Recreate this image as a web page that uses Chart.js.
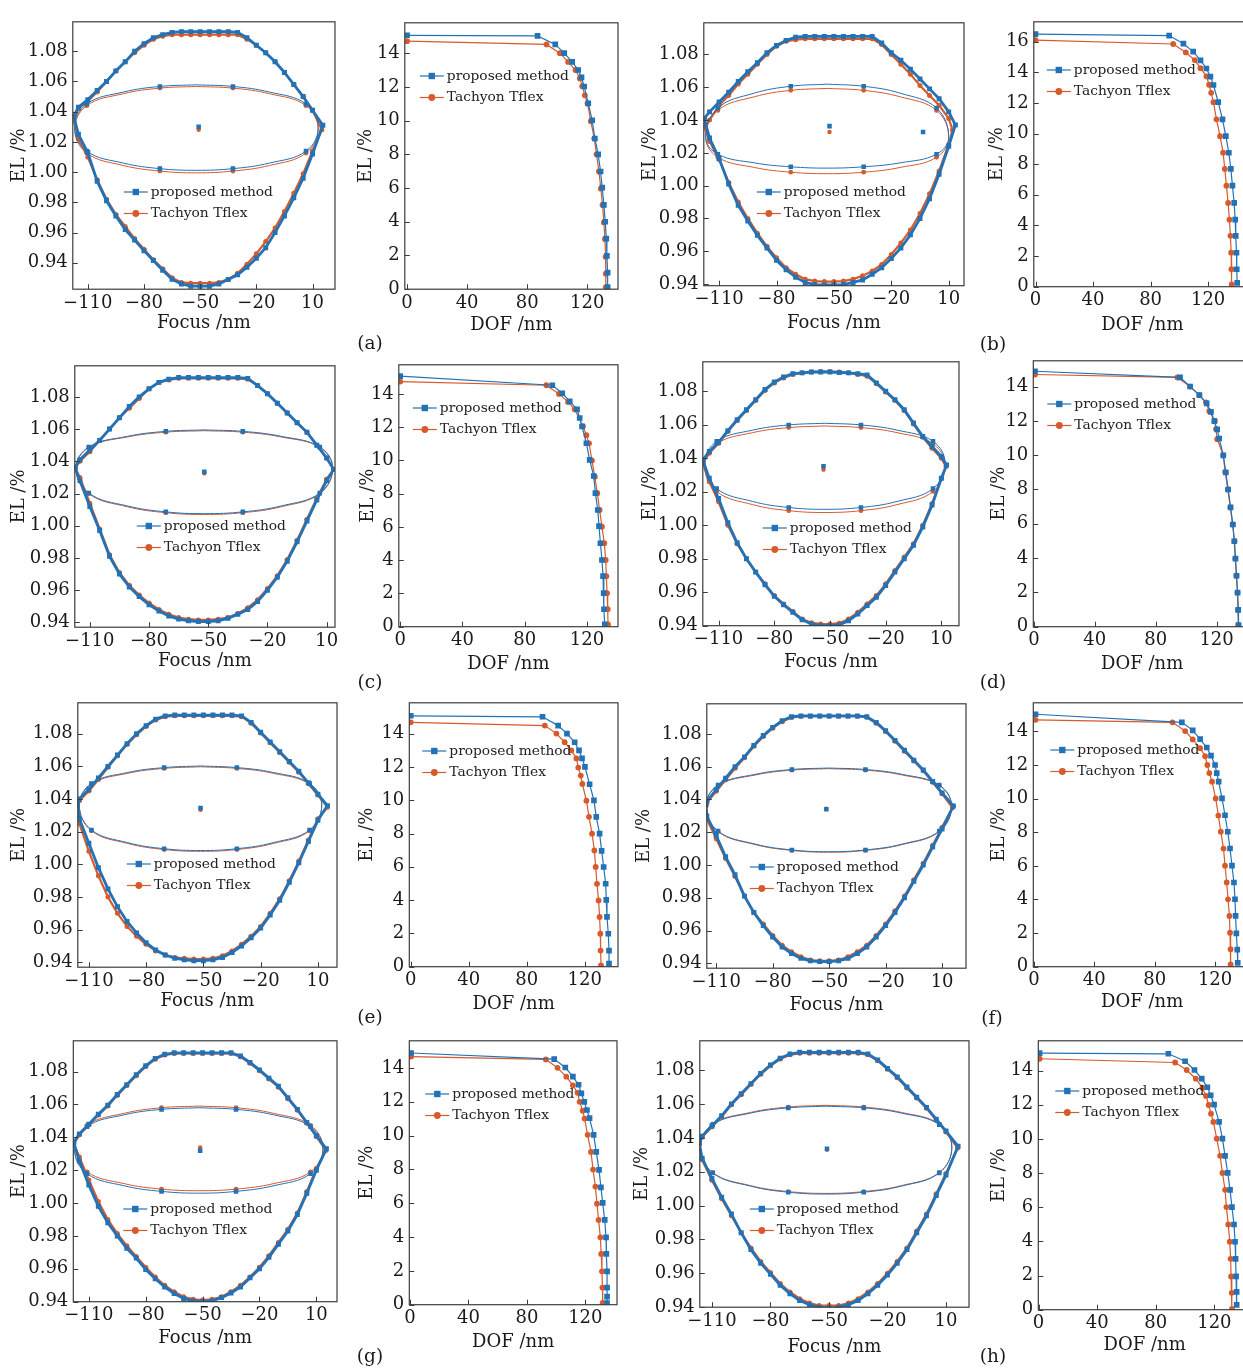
<!DOCTYPE html>
<html><head><meta charset="utf-8">
<script src="https://cdn.jsdelivr.net/npm/chart.js@4.4.0/dist/chart.umd.min.js"></script>
<style>
html,body{margin:0;padding:0;width:1243px;height:1368px;overflow:hidden;background:#fff;position:relative;}
canvas{position:absolute;}
.lbl{position:absolute;font-family:'DejaVu Serif';font-size:18.5px;color:#1a1a1a;transform:translate(-50%,-50%);white-space:nowrap;}
</style></head><body>
<script>
// ---------- tick labels / categories ----------
const NAMES = ['proposed method', 'Tachyon Tflex'];
const PW_X_TICKS = [-110, -80, -50, -20, 10];
const PW_Y_TICKS = [0.94, 0.96, 0.98, 1.00, 1.02, 1.04, 1.06, 1.08];
const DOF_X_TICKS = [0, 40, 80, 120];
const DOF_Y_TICKS = [0, 2, 4, 6, 8, 10, 12, 14];
const DOF_Y_TICKS_B = [0, 2, 4, 6, 8, 10, 12, 14, 16];
const BELL_FOCUS = [-115,-110,-105,-100,-95,-90,-85,-80,-75,-70,-65,-60,-55,-50,-45,-40,-35,-30,-25,-20,-15,-10,-5,0,5,10];

// ---------- (a) ----------
const bellBlueUp_a = [1.043,1.048,1.054,1.060,1.067,1.073,1.080,1.085,1.089,1.091,1.0925,1.093,1.093,1.093,1.093,1.093,1.093,1.0925,1.089,1.084,1.079,1.073,1.066,1.058,1.050,1.041];
const bellBlueLo_a = [1.025,1.013,0.994,0.981,0.971,0.962,0.955,0.948,0.9415,0.935,0.929,0.926,0.9245,0.9245,0.9245,0.926,0.929,0.932,0.937,0.943,0.950,0.960,0.971,0.983,0.996,1.012];
const bellBlueTips_a = [[-117.5,1.037],[15.5,1.031]];
const bellRedUp_a = [1.042,1.047,1.053,1.060,1.067,1.073,1.079,1.084,1.088,1.090,1.091,1.091,1.091,1.091,1.091,1.091,1.091,1.091,1.088,1.084,1.079,1.073,1.066,1.058,1.050,1.041];
const bellRedLo_a = [1.022,1.010,0.995,0.982,0.972,0.964,0.956,0.949,0.942,0.936,0.930,0.927,0.9265,0.9265,0.9265,0.927,0.929,0.933,0.939,0.946,0.954,0.963,0.974,0.986,0.999,1.014];
const bellRedTips_a = [[-117.5,1.034],[15,1.028]];
const ellX_a = [-52,-32.5,-13,6.5,13,6.5,-13,-32.5,-52,-71.5,-91,-110.5,-117,-110.5,-91,-71.5,-52];
const ellBlueY_a = [1.0578,1.0567,1.053,1.0451,1.0295,1.0139,1.006,1.0023,1.0012,1.0023,1.006,1.0139,1.0295,1.0451,1.053,1.0567,1.0578];
const ellRedY_a = [1.0567,1.0556,1.0519,1.044,1.0285,1.0126,1.0044,1.0007,0.9995,1.0007,1.0044,1.0126,1.0285,1.044,1.0519,1.0556,1.0567];
const ctrBlue_a = [[-50.8,1.030]];
const ctrRed_a = [[-50.8,1.028]];
const dofBlue_a = [[0,15.06],[86.9,15.02],[98.7,14.52],[104.7,14],[110,13.48],[114,13],[116.2,12.56],[118,12.02],[120.7,11.02],[123.3,10.02],[125.1,8.94],[127.3,8],[128.9,6.98],[130,6.02],[131.1,5],[132,4],[132.7,3],[133.1,1.98],[133.6,0.98],[133.6,0.12]];
const dofRed_a = [[0,14.71],[92.9,14.52],[101.8,14],[107.3,13.48],[112.2,13],[115.1,12.5],[116.7,12.04],[118.4,11.5],[120.2,11.02],[122.4,9.96],[124.7,8.94],[126.2,8],[127.8,6.98],[129.1,5.96],[130.2,5],[131.1,3.96],[131.8,2.98],[132.2,1.92],[132.4,0.92],[132.4,0.12]];

// ---------- (b) ----------
const bellBlueUp_b = [1.045,1.051,1.057,1.0635,1.0695,1.075,1.081,1.0855,1.0885,1.0905,1.091,1.091,1.091,1.091,1.091,1.091,1.091,1.091,1.087,1.081,1.0765,1.071,1.065,1.059,1.053,1.045];
const bellBlueLo_b = [1.029,1.0165,1.001,0.988,0.9785,0.9697,0.962,0.9545,0.9487,0.9442,0.941,0.9397,0.9395,0.9395,0.9397,0.941,0.9425,0.946,0.950,0.9555,0.962,0.970,0.980,0.992,1.007,1.024];
const bellBlueTips_b = [[-117.8,1.041],[13.5,1.037]];
const bellRedUp_b = [1.040,1.049,1.055,1.062,1.068,1.074,1.080,1.085,1.088,1.089,1.0895,1.0895,1.0895,1.0895,1.0895,1.0895,1.0895,1.0895,1.086,1.080,1.074,1.068,1.061,1.055,1.049,1.041];
const bellRedLo_b = [1.027,1.016,1.002,0.990,0.980,0.971,0.963,0.956,0.950,0.946,0.943,0.9418,0.9415,0.9415,0.9418,0.943,0.945,0.948,0.952,0.958,0.965,0.973,0.983,0.995,1.009,1.025];
const bellRedTips_b = [[-117.8,1.036],[12,1.034]];
const ellX_b = [-53.5,-34.45,-15.4,3.65,10,3.65,-15.4,-34.45,-53.5,-72.55,-91.6,-110.65,-117,-110.65,-91.6,-72.55,-53.5];
const ellBlueY_b = [1.0619,1.0606,1.0564,1.0473,1.0295,1.0192,1.0139,1.0115,1.0107,1.0115,1.0139,1.0192,1.0295,1.0473,1.0564,1.0606,1.0619];
const ellRedY_b = [1.0593,1.0581,1.0542,1.0459,1.0295,1.0173,1.0111,1.0082,1.0073,1.0082,1.0111,1.0173,1.0295,1.0459,1.0542,1.0581,1.0593];
const ctrBlue_b = [[-52.3,1.0363],[-3.4,1.0327]];
const ctrRed_b = [[-52.3,1.0327]];
const dofBlue_b = [[0,16.49],[92.9,16.4],[102.8,15.87],[109.6,15.35],[114.7,14.78],[118.8,14.25],[121.6,13.72],[123.7,13.17],[127,12.05],[130,10.93],[132.3,9.83],[134.4,8.75],[135.8,7.69],[136.9,6.6],[138.1,5.47],[138.8,4.38],[139.2,3.32],[139.7,2.22],[139.9,1.14],[140.2,0.25]];
const dofRed_b = [[0,16.1],[95.7,15.85],[104.5,15.3],[110.7,14.8],[114.7,14.27],[118.8,13.74],[120.7,13.19],[122.1,12.66],[123.7,12.05],[125.8,10.93],[128.3,9.83],[130.4,8.75],[131.6,7.69],[132.7,6.6],[133.9,5.47],[134.8,4.38],[135.5,3.32],[136,2.22],[136.2,1.14],[136.4,0.15]];

// ---------- (c) ----------
const bellBlueUp_c = [1.041,1.047,1.053,1.060,1.067,1.074,1.080,1.085,1.089,1.091,1.092,1.092,1.092,1.092,1.092,1.092,1.092,1.0915,1.087,1.082,1.076,1.070,1.064,1.058,1.050,1.042];
const bellBlueLo_c = [1.028,1.012,0.997,0.981,0.970,0.962,0.956,0.951,0.947,0.944,0.942,0.941,0.9405,0.9405,0.941,0.9425,0.945,0.948,0.953,0.960,0.968,0.978,0.990,1.003,1.016,1.028];
const bellBlueTips_c = [[-117.5,1.036],[13.5,1.035]];
const bellRedUp_c = [1.040,1.046,1.053,1.060,1.067,1.073,1.079,1.085,1.089,1.0905,1.0915,1.0915,1.0915,1.0915,1.0915,1.0915,1.0915,1.091,1.087,1.082,1.076,1.070,1.064,1.058,1.050,1.042];
const bellRedLo_c = [1.030,1.014,0.998,0.982,0.971,0.963,0.957,0.952,0.948,0.945,0.943,0.942,0.9415,0.9415,0.942,0.943,0.9455,0.949,0.954,0.961,0.969,0.979,0.991,1.004,1.017,1.029];
const bellRedTips_c = [[-117.5,1.036],[13.5,1.035]];
const ellX_c = [-52,-32.5,-13,6.5,13,6.5,-13,-32.5,-52,-71.5,-91,-110.5,-117,-110.5,-91,-71.5,-52];
const ellBlueY_c = [1.0595,1.0586,1.0555,1.0489,1.036,1.0203,1.0123,1.0086,1.0075,1.0086,1.0123,1.0203,1.036,1.0489,1.0555,1.0586,1.0595];
const ellRedY_c = [1.059,1.0581,1.0551,1.0486,1.0355,1.0199,1.0118,1.0081,1.007,1.0081,1.0118,1.0199,1.0355,1.0486,1.0551,1.0581,1.059];
const ctrBlue_c = [[-52,1.0335]];
const ctrRed_c = [[-52,1.0325]];
const dofBlue_c = [[0,15.07],[97.7,14.52],[104.1,14.04],[108.9,13.55],[113.6,13.07],[115.3,12.55],[116.8,12.04],[119.6,11.03],[121.7,10.03],[124.3,9.06],[125.4,8.03],[126.9,7.02],[127.7,6.05],[128.6,5.02],[129.6,4.01],[130.3,3.04],[130.7,2.02],[130.9,1.05],[131.4,0.14]];
const dofRed_c = [[0,14.74],[93.9,14.52],[102,14],[107.8,13.52],[112.1,13.07],[117.4,12.06],[119.6,11.52],[121.3,11.03],[123.2,9.99],[125,9.02],[126.6,8.03],[128.1,7.02],[129.6,6.01],[131.1,5.02],[132,4.01],[132.4,3.04],[132.9,2.02],[133.3,1.05],[133.5,0.14]];

// ---------- (d) ----------
const bellBlueUp_d = [1.044,1.0495,1.0565,1.063,1.069,1.075,1.081,1.0855,1.0885,1.0905,1.091,1.0915,1.0915,1.0915,1.0912,1.091,1.0905,1.0898,1.085,1.080,1.075,1.069,1.061,1.053,1.047,1.041];
const bellBlueLo_d = [1.028,1.016,1.0015,0.9895,0.980,0.972,0.9645,0.9575,0.9525,0.948,0.9435,0.941,0.940,0.940,0.9405,0.943,0.947,0.952,0.957,0.964,0.972,0.980,0.988,0.999,1.012,1.028];
const bellBlueTips_d = [[-118.5,1.039],[12.8,1.036]];
const bellRedUp_d = [1.043,1.049,1.056,1.0625,1.0685,1.0745,1.0805,1.085,1.088,1.090,1.091,1.0915,1.0918,1.0918,1.0915,1.091,1.090,1.089,1.0845,1.0795,1.0745,1.0685,1.0605,1.0525,1.046,1.040];
const bellRedLo_d = [1.026,1.014,1.000,0.989,0.980,0.972,0.965,0.958,0.953,0.9485,0.944,0.9418,0.941,0.941,0.9415,0.944,0.948,0.953,0.958,0.965,0.973,0.981,0.989,1.000,1.013,1.028];
const bellRedTips_d = [[-118.5,1.037],[12.5,1.035]];
const ellX_d = [-52.75,-33.3,-13.9,5.5,12,5.5,-13.9,-33.3,-52.75,-72.2,-91.6,-111,-117.5,-111,-91.6,-72.2,-52.75];
const ellBlueY_d = [1.0609,1.0599,1.0568,1.0501,1.037,1.0219,1.0142,1.0106,1.0095,1.0106,1.0142,1.0219,1.037,1.0501,1.0568,1.0599,1.0609];
const ellRedY_d = [1.0593,1.0583,1.0553,1.0486,1.0355,1.0202,1.0123,1.0087,1.0076,1.0087,1.0123,1.0202,1.0355,1.0486,1.0553,1.0583,1.0593];
const ctrBlue_d = [[-53.5,1.0352]];
const ctrRed_d = [[-53.5,1.0332]];
const dofBlue_d = [[0.7,14.89],[96,14.53],[102.6,14],[108.7,13.5],[113.5,13.02],[116.3,12.52],[118.5,11.98],[120.4,11.5],[121.7,10.97],[124.4,9.99],[126.1,8.99],[127.6,8],[129.2,6.96],[130.7,5.96],[131.6,4.98],[132.4,3.97],[133.1,2.97],[133.8,1.99],[134.2,0.98],[134.4,0.09]];
const dofRed_d = [[0.7,14.7],[94.3,14.53],[102.6,14],[108.7,13.5],[113,13.07],[115.2,12.56],[118.9,12],[119.6,11.52],[120.4,10.93],[124.4,9.99],[125.6,9.02],[127.4,8],[129,6.96],[130.5,5.96],[131.8,4.98],[132.3,3.97],[133,2.97],[133.7,1.99],[134.1,0.98],[134.3,0.09]];

// ---------- (e) ----------
const bellBlueUp_e = [1.040,1.046,1.053,1.060,1.067,1.074,1.080,1.085,1.089,1.091,1.0915,1.0915,1.0915,1.0915,1.0915,1.0915,1.0915,1.091,1.087,1.081,1.075,1.069,1.063,1.057,1.050,1.043];
const bellBlueLo_e = [1.028,1.013,0.998,0.985,0.974,0.965,0.958,0.952,0.9475,0.9445,0.9425,0.9415,0.941,0.941,0.9415,0.943,0.946,0.950,0.955,0.961,0.969,0.978,0.989,1.001,1.014,1.027];
const bellBlueTips_e = [[-116,1.037],[15,1.036]];
const bellRedUp_e = [1.039,1.045,1.052,1.0595,1.0665,1.0735,1.0795,1.0845,1.0885,1.0905,1.091,1.091,1.091,1.091,1.091,1.091,1.091,1.0905,1.0865,1.0805,1.0745,1.0685,1.0625,1.0565,1.0495,1.0425];
const bellRedLo_e = [1.025,1.008,0.993,0.980,0.970,0.962,0.956,0.951,0.947,0.9445,0.943,0.9425,0.942,0.942,0.9425,0.944,0.947,0.951,0.956,0.962,0.970,0.979,0.990,1.002,1.015,1.028];
const bellRedTips_e = [[-116.5,1.036],[15,1.035]];
const ellX_e = [-51.5,-32.45,-13.4,5.65,12,5.65,-13.4,-32.45,-51.5,-70.55,-89.6,-108.65,-115,-108.65,-89.6,-70.55,-51.5];
const ellBlueY_e = [1.0603,1.0593,1.0563,1.0496,1.0365,1.0211,1.0133,1.0096,1.0085,1.0096,1.0133,1.0211,1.0365,1.0496,1.0563,1.0593,1.0603];
const ellRedY_e = [1.0598,1.0588,1.0558,1.0491,1.036,1.0206,1.0128,1.0091,1.008,1.0091,1.0128,1.0206,1.036,1.0491,1.0558,1.0588,1.0598];
const ctrBlue_e = [[-51.5,1.0345]];
const ctrRed_e = [[-51.5,1.0335]];
const dofBlue_e = [[0,15.07],[90.9,15.01],[101.7,14.48],[107.8,14],[113.1,13.48],[116.1,12.99],[118.2,12.51],[120.2,12],[123.4,10.96],[126.4,9.99],[128,9],[130.3,7.99],[131.7,6.96],[133.1,5.99],[134.5,4.98],[134.9,4.01],[135.4,2.99],[136.3,1.98],[136.8,0.97],[136.8,0.19]];
const dofRed_e = [[0,14.68],[92.5,14.48],[100.5,14],[106.2,13.48],[110.8,12.99],[114.3,12.51],[115.6,11.96],[117.3,11.48],[118.4,10.98],[121.2,9.97],[123,9],[125.1,7.99],[126.7,6.98],[127.6,5.99],[128.5,4.98],[129.6,3.98],[130.3,2.99],[130.8,1.98],[131,0.97],[131.3,0.08]];

// ---------- (f) ----------
const bellBlueUp_f = [1.039,1.046,1.053,1.060,1.066,1.073,1.079,1.084,1.088,1.0905,1.091,1.091,1.091,1.091,1.091,1.091,1.091,1.0905,1.087,1.082,1.076,1.070,1.064,1.058,1.051,1.044];
const bellBlueLo_f = [1.030,1.018,1.005,0.994,0.981,0.971,0.963,0.956,0.950,0.946,0.943,0.9415,0.941,0.941,0.9415,0.943,0.946,0.950,0.956,0.963,0.971,0.980,0.990,1.000,1.011,1.022];
const bellBlueTips_f = [[-115.5,1.037],[16,1.036]];
const bellRedUp_f = [1.038,1.045,1.052,1.059,1.0655,1.0725,1.0785,1.0835,1.0875,1.090,1.0908,1.0908,1.0908,1.0908,1.0908,1.0908,1.0908,1.0902,1.0865,1.0815,1.0755,1.0695,1.0635,1.0575,1.0505,1.0435];
const bellRedLo_f = [1.028,1.016,1.004,0.993,0.981,0.971,0.964,0.957,0.951,0.947,0.944,0.942,0.9415,0.9415,0.942,0.944,0.947,0.951,0.957,0.964,0.972,0.981,0.991,1.001,1.012,1.023];
const bellRedTips_f = [[-115.5,1.036],[15.5,1.035]];
const ellX_f = [-50.25,-30.7,-11.1,8.5,15,8.5,-11.1,-30.7,-50.25,-69.8,-89.4,-109,-115.5,-109,-89.4,-69.8,-50.25];
const ellBlueY_f = [1.0592,1.0583,1.0553,1.0488,1.036,1.0207,1.0128,1.0092,1.0081,1.0092,1.0128,1.0207,1.036,1.0488,1.0553,1.0583,1.0592];
const ellRedY_f = [1.0588,1.0579,1.0549,1.0485,1.0358,1.0204,1.0125,1.0089,1.0078,1.0089,1.0125,1.0204,1.0358,1.0485,1.0549,1.0579,1.0588];
const ctrBlue_f = [[-51.5,1.034]];
const ctrRed_f = [[-51.5,1.0343]];
const dofBlue_f = [[1.1,15.02],[98,14.54],[105.2,14.06],[110.1,13.54],[114.5,13.04],[117.3,12.56],[120,12],[121.1,11.52],[122.4,11.01],[124.6,10.01],[126.6,9.01],[128.4,8.03],[129.9,7.03],[131.2,6.01],[132.5,5.01],[133.2,4.01],[133.6,3.02],[134.1,1.98],[134.7,1.02],[135,0.23]];
const dofRed_f = [[1.1,14.69],[91.8,14.54],[100.2,14.02],[105.2,13.52],[110.1,13],[113.4,12.52],[114.9,12],[116.2,11.52],[118,11.01],[120.4,10.01],[122.2,8.99],[123.8,8.03],[125.6,7.03],[126.6,6.01],[127.7,5.01],[128.6,4.01],[129.5,3.02],[129.9,2.02],[130.3,1.04],[130.3,0.13]];

// ---------- (g) ----------
const bellBlueUp_g = [1.042,1.048,1.054,1.0595,1.066,1.072,1.078,1.0835,1.088,1.0905,1.0914,1.0914,1.0914,1.0914,1.0914,1.0914,1.0914,1.0895,1.0855,1.081,1.076,1.071,1.064,1.057,1.049,1.041];
const bellBlueLo_g = [1.0255,1.011,0.998,0.988,0.980,0.9725,0.9665,0.9595,0.954,0.949,0.945,0.942,0.9405,0.9402,0.9405,0.9425,0.9453,0.949,0.9545,0.960,0.967,0.975,0.983,0.993,1.006,1.020];
const bellBlueTips_g = [[-118,1.037],[15.3,1.033]];
const bellRedUp_g = [1.0415,1.0475,1.0535,1.059,1.0655,1.0715,1.0775,1.083,1.0875,1.090,1.091,1.091,1.091,1.091,1.091,1.091,1.091,1.089,1.085,1.0805,1.0755,1.0705,1.0635,1.0565,1.0485,1.0405];
const bellRedLo_g = [1.028,1.014,1.001,0.990,0.9815,0.974,0.9675,0.961,0.955,0.950,0.946,0.943,0.9415,0.941,0.9415,0.943,0.946,0.950,0.955,0.961,0.968,0.976,0.984,0.994,1.007,1.021];
const bellRedTips_g = [[-118,1.036],[15,1.032]];
const ellX_g = [-52,-32.35,-12.7,6.95,13.5,6.95,-12.7,-32.35,-52,-71.65,-91.3,-110.95,-117.5,-110.95,-91.3,-71.65,-52];
const ellBlueY_g = [1.058,1.057,1.0537,1.0465,1.0325,1.0179,1.0105,1.0071,1.006,1.0071,1.0105,1.0179,1.0325,1.0465,1.0537,1.057,1.058];
const ellRedY_g = [1.059,1.058,1.0546,1.0473,1.033,1.019,1.0118,1.0085,1.0075,1.0085,1.0118,1.019,1.033,1.0473,1.0546,1.058,1.059];
const ctrBlue_g = [[-51.3,1.0319]];
const ctrRed_g = [[-51.3,1.0338]];
const dofBlue_g = [[0.7,14.88],[98.7,14.52],[106.3,14.02],[111.5,13.48],[115.4,13],[117.3,12.49],[119.3,11.99],[121.1,11.51],[122.9,11.03],[125.7,10.04],[127.5,9.03],[129.4,7.97],[130.7,6.94],[131.9,6.02],[133.3,5.01],[134.2,3.98],[134.4,3],[134.9,1.97],[134.9,1.01],[134.9,0.48],[134.9,0.1]];
const dofRed_g = [[0.7,14.67],[93,14.5],[101,14],[107,13.48],[111.5,12.97],[114.7,12.53],[116.1,11.99],[118.2,11.47],[119.5,11],[121.6,10.04],[123.9,9.03],[125.3,7.99],[126.9,6.98],[128,5.97],[129.1,5.01],[130.3,3.98],[130.9,3],[131.4,1.97],[131.7,1.01],[131.9,0.1]];

// ---------- (h) ----------
const bellBlueUp_h = [1.041,1.047,1.053,1.060,1.066,1.072,1.078,1.083,1.087,1.0895,1.0905,1.0905,1.0905,1.0905,1.0905,1.0905,1.0905,1.0895,1.086,1.081,1.076,1.070,1.064,1.058,1.051,1.044];
const bellBlueLo_h = [1.028,1.016,1.005,0.995,0.984,0.974,0.966,0.9595,0.953,0.948,0.944,0.9415,0.940,0.9395,0.940,0.9415,0.944,0.948,0.953,0.959,0.966,0.974,0.984,0.994,1.006,1.018];
const bellBlueTips_h = [[-116.5,1.037],[16.2,1.035]];
const bellRedUp_h = [1.0405,1.0465,1.0525,1.0595,1.0655,1.0715,1.0775,1.0825,1.0865,1.089,1.090,1.090,1.090,1.090,1.090,1.090,1.090,1.089,1.0855,1.0805,1.0755,1.0695,1.0635,1.0575,1.0505,1.0435];
const bellRedLo_h = [1.027,1.015,1.004,0.994,0.984,0.975,0.967,0.9605,0.954,0.949,0.945,0.9425,0.941,0.941,0.941,0.9425,0.945,0.949,0.954,0.960,0.967,0.975,0.985,0.995,1.007,1.019];
const bellRedTips_h = [[-116.5,1.036],[16,1.034]];
const ellX_h = [-51.5,-32.15,-12.8,6.55,13,6.55,-12.8,-32.15,-51.5,-70.85,-90.2,-109.55,-116,-109.55,-90.2,-70.85,-51.5];
const ellBlueY_h = [1.0587,1.0577,1.0546,1.0478,1.0345,1.0193,1.0115,1.0079,1.0068,1.0079,1.0115,1.0193,1.0345,1.0478,1.0546,1.0577,1.0587];
const ellRedY_h = [1.0592,1.0582,1.055,1.0481,1.0345,1.0195,1.0118,1.0083,1.0072,1.0083,1.0118,1.0195,1.0345,1.0481,1.055,1.0582,1.0592];
const ctrBlue_h = [[-51,1.0335]];
const ctrRed_h = [[-51,1.033]];
const dofBlue_h = [[0.7,15.03],[88.6,14.99],[100,14.55],[106.4,14.04],[111.4,13.53],[115.2,13.03],[117.5,12.56],[119.8,12.01],[123.2,11],[125.5,10.02],[127.3,9.01],[129.1,8.01],[130.7,7.02],[132,6.01],[133.4,4.99],[134.1,3.98],[134.5,2.98],[134.8,1.95],[135.2,1.04],[135.2,0.28]];
const dofRed_h = [[0.7,14.7],[93.2,14.48],[101.1,14.04],[107.3,13.53],[111.8,13],[114.3,12.52],[116.1,11.99],[117.7,11.48],[119.3,11],[121.6,10.02],[123.9,9.01],[125.5,8.01],[127.3,7.02],[128.2,6.01],[129.5,4.99],[130.5,3.98],[131.1,2.98],[131.4,1.95],[131.8,0.99],[132,0.04]];

// ---------- tables built from the arrays ----------
const DATA = {
  a:{bbu:bellBlueUp_a,bbl:bellBlueLo_a,bbt:bellBlueTips_a,bru:bellRedUp_a,brl:bellRedLo_a,brt:bellRedTips_a,ex:ellX_a,eb:ellBlueY_a,er:ellRedY_a,cb:ctrBlue_a,cr:ctrRed_a,db:dofBlue_a,dr:dofRed_a},
  b:{bbu:bellBlueUp_b,bbl:bellBlueLo_b,bbt:bellBlueTips_b,bru:bellRedUp_b,brl:bellRedLo_b,brt:bellRedTips_b,ex:ellX_b,eb:ellBlueY_b,er:ellRedY_b,cb:ctrBlue_b,cr:ctrRed_b,db:dofBlue_b,dr:dofRed_b},
  c:{bbu:bellBlueUp_c,bbl:bellBlueLo_c,bbt:bellBlueTips_c,bru:bellRedUp_c,brl:bellRedLo_c,brt:bellRedTips_c,ex:ellX_c,eb:ellBlueY_c,er:ellRedY_c,cb:ctrBlue_c,cr:ctrRed_c,db:dofBlue_c,dr:dofRed_c},
  d:{bbu:bellBlueUp_d,bbl:bellBlueLo_d,bbt:bellBlueTips_d,bru:bellRedUp_d,brl:bellRedLo_d,brt:bellRedTips_d,ex:ellX_d,eb:ellBlueY_d,er:ellRedY_d,cb:ctrBlue_d,cr:ctrRed_d,db:dofBlue_d,dr:dofRed_d},
  e:{bbu:bellBlueUp_e,bbl:bellBlueLo_e,bbt:bellBlueTips_e,bru:bellRedUp_e,brl:bellRedLo_e,brt:bellRedTips_e,ex:ellX_e,eb:ellBlueY_e,er:ellRedY_e,cb:ctrBlue_e,cr:ctrRed_e,db:dofBlue_e,dr:dofRed_e},
  f:{bbu:bellBlueUp_f,bbl:bellBlueLo_f,bbt:bellBlueTips_f,bru:bellRedUp_f,brl:bellRedLo_f,brt:bellRedTips_f,ex:ellX_f,eb:ellBlueY_f,er:ellRedY_f,cb:ctrBlue_f,cr:ctrRed_f,db:dofBlue_f,dr:dofRed_f},
  g:{bbu:bellBlueUp_g,bbl:bellBlueLo_g,bbt:bellBlueTips_g,bru:bellRedUp_g,brl:bellRedLo_g,brt:bellRedTips_g,ex:ellX_g,eb:ellBlueY_g,er:ellRedY_g,cb:ctrBlue_g,cr:ctrRed_g,db:dofBlue_g,dr:dofRed_g},
  h:{bbu:bellBlueUp_h,bbl:bellBlueLo_h,bbt:bellBlueTips_h,bru:bellRedUp_h,brl:bellRedLo_h,brt:bellRedTips_h,ex:ellX_h,eb:ellBlueY_h,er:ellRedY_h,cb:ctrBlue_h,cr:ctrRed_h,db:dofBlue_h,dr:dofRed_h}
};

// ---------- layout (positions / axis ranges) ----------
const PANELS = [
 {k:'a', lab:[370,342], pw:{box:[73,14,335,289],tx:20,ty:323,leg:[124,192],xr:[-118,22],yr:[0.9225,1.0995]}, dof:{box:[405,15,618,289],tx:367,ty:325,leg:[420,76],xr:[-1.5,140.5],yr:[0,15.8]}},
 {k:'b', lab:[993,343], pw:{box:[704,15,964,286],tx:651,ty:323.5,leg:[757,192],xr:[-118,18],yr:[0.939,1.0993]}, dof:{box:[1034,14,1251,287],tx:998,ty:325.5,leg:[1047,70],xr:[-1.2,149.8],yr:[0,17.3]}},
 {k:'c', lab:[370,681], pw:{box:[75,358,335,627],tx:20,ty:661,leg:[137,526],xr:[-117.6,14.2],yr:[0.937,1.0993]}, dof:{box:[399,357,618,627],tx:369,ty:664.5,leg:[413,408],xr:[-0.9,139.9],yr:[0,15.75]}},
 {k:'d', lab:[993,681], pw:{box:[703,354,959,626],tx:651,ty:662.5,leg:[763,528],xr:[-118.5,19.5],yr:[0.94,1.0976]}, dof:{box:[1033,353,1251,627],tx:999.5,ty:664.5,leg:[1047,404],xr:[-0.4,142.6],yr:[0,15.5]}},
 {k:'e', lab:[370,1016], pw:{box:[78,695,337,967],tx:20,ty:1001,leg:[127,864],xr:[-115.8,20],yr:[0.937,1.099]}, dof:{box:[409,695,618,967],tx:367.5,ty:1004.5,leg:[422,751],xr:[-1,143],yr:[0,15.85]}},
 {k:'f', lab:[992,1017], pw:{box:[707,696,966,968],tx:645,ty:1005,leg:[750,867],xr:[-115,22.7],yr:[0.937,1.0984]}, dof:{box:[1033,695,1251,967],tx:999.5,ty:1002.5,leg:[1050,750],xr:[-0.4,143.8],yr:[0,15.7]}},
 {k:'g', lab:[370,1355], pw:{box:[73,1033,337,1302],tx:19.5,ty:1338.5,leg:[123,1209],xr:[-118.2,20.9],yr:[0.94,1.0987]}, dof:{box:[409,1033,617,1305],tx:367.5,ty:1342.5,leg:[425,1094],xr:[-0.5,141.7],yr:[0,15.6]}},
 {k:'h', lab:[993,1355], pw:{box:[700,1033,969,1307],tx:643,ty:1347,leg:[750,1209],xr:[-116.2,21.8],yr:[0.94,1.0973]}, dof:{box:[1038,1033,1251,1310],tx:999.5,ty:1345.5,leg:[1055,1091],xr:[-0.2,145],yr:[0,15.75]}}
];

const FONT = 'DejaVu Serif';
const BLUE = '#2372b6', RED = '#d65a2c';
const TXT = '#1a1a1a';
const FS = 18, LH = FS * 1.2;

const P = arr => arr.map(([x, y]) => ({x, y}));
function bellPoints(up, lo, tips) {
  const pts = [{x: tips[0][0], y: tips[0][1]}];
  BELL_FOCUS.forEach((f, i) => pts.push({x: f, y: up[i]}));
  pts.push({x: tips[1][0], y: tips[1][1]});
  for (let i = BELL_FOCUS.length - 1; i >= 0; i--) pts.push({x: BELL_FOCUS[i], y: lo[i]});
  pts.push({x: tips[0][0], y: tips[0][1]});
  return pts;
}
const ellPoints = (xs, ys) => xs.map((x, i) => ({x, y: ys[i]}));

const framePlugin = {
  id: 'frame',
  afterDatasetsDraw(chart, args, o) {
    const {ctx, chartArea: a} = chart;
    const xs = chart.scales.x, ys = chart.scales.y;
    ctx.save();
    ctx.strokeStyle = '#3c3c3c';
    ctx.lineWidth = 1.2;
    ctx.strokeRect(a.left, a.top, a.right - a.left, a.bottom - a.top);
    ctx.lineWidth = 1;
    ctx.beginPath();
    xs.ticks.forEach(tk => { const p = Math.round(xs.getPixelForValue(tk.value)) + 0.5; ctx.moveTo(p, a.bottom); ctx.lineTo(p, a.bottom - 5); });
    ys.ticks.forEach(tk => { const p = Math.round(ys.getPixelForValue(tk.value)) + 0.5; ctx.moveTo(a.left, p); ctx.lineTo(a.left + 5, p); });
    ctx.stroke();
    // legend: line + marker + text
    const lx = o.legX - o.offX, ly = o.legY - o.offY;
    [[BLUE, 'rect'], [RED, 'circle']].forEach(([col, st], i) => {
      const y = ly + i * 21.5;
      ctx.strokeStyle = col; ctx.fillStyle = col; ctx.lineWidth = 1.2;
      ctx.beginPath(); ctx.moveTo(lx, y); ctx.lineTo(lx + 24, y); ctx.stroke();
      ctx.beginPath();
      if (st === 'rect') ctx.rect(lx + 12 - 3.2, y - 3.2, 6.4, 6.4); else ctx.arc(lx + 12, y, 3.4, 0, Math.PI * 2);
      ctx.fill();
      ctx.fillStyle = '#222';
      ctx.font = '13.8px "DejaVu Serif"';
      ctx.textBaseline = 'middle'; ctx.textAlign = 'left';
      ctx.fillText(NAMES[i], lx + 27, y);
    });
    ctx.restore();
  }
};

const fmtMinus = v => (v < 0 ? '\u2212' + Math.abs(v) : String(v));

function makeChart(spec, datasets, xt, yt, xTitle, fmtX, fmtY, clip) {
  const [l, t, r, b] = spec.box;
  const Wy = l - (spec.tx - LH / 2);
  const Hx = spec.ty + LH / 2 - b;
  const PT = 8, PR = 8;
  const cw = Math.round(Wy + (r - l) + PR), ch = Math.round(PT + (b - t) + Hx);
  const cv = document.createElement('canvas');
  cv.width = cw; cv.height = ch;
  const offX = l - Wy, offY = t - PT;
  cv.style.left = offX + 'px'; cv.style.top = offY + 'px';
  cv.style.width = cw + 'px'; cv.style.height = ch + 'px';
  document.body.appendChild(cv);
  datasets.forEach(d => { if (clip !== undefined) d.clip = clip; });
  new Chart(cv, {
    type: 'scatter',
    data: {datasets},
    options: {
      responsive: false, animation: false, devicePixelRatio: 1, events: [],
      layout: {padding: {left: 0, top: PT, right: PR, bottom: 0}},
      plugins: {legend: {display: false}, tooltip: {enabled: false},
        frame: {legX: spec.leg[0], legY: spec.leg[1], offX, offY}},
      scales: {
        x: {type: 'linear', min: spec.xr[0], max: spec.xr[1],
          grid: {display: false, drawTicks: false}, border: {display: false},
          afterBuildTicks: s => { s.ticks = xt.map(v => ({value: v})); },
          afterFit: s => { s.height = Hx; },
          ticks: {padding: 3, color: TXT, font: {family: FONT, size: FS}, maxRotation: 0, autoSkip: false, callback: v => fmtX(v)},
          title: {display: true, text: xTitle, color: TXT, font: {family: FONT, size: FS, lineHeight: 1.2}, padding: 0}},
        y: {type: 'linear', min: spec.yr[0], max: spec.yr[1],
          grid: {display: false, drawTicks: false}, border: {display: false},
          afterBuildTicks: s => { s.ticks = yt.map(v => ({value: v})); },
          afterFit: s => { s.width = Wy; },
          ticks: {padding: 5, color: TXT, font: {family: FONT, size: FS}, autoSkip: false, callback: v => fmtY(v)},
          title: {display: true, text: 'EL /%', color: TXT, font: {family: FONT, size: FS, lineHeight: 1.2}, padding: 0}}
      }
    },
    plugins: [framePlugin]
  });
}

const ellRadius = c => ([1, 3, 5, 7, 9, 11, 13, 15].includes(c.dataIndex) ? 2.8 : 0);

PANELS.forEach(pn => {
  const D = DATA[pn.k];
  const pwSets = [
    {data: bellPoints(D.bbu, D.bbl, D.bbt), showLine: true, borderColor: BLUE, backgroundColor: BLUE, borderWidth: 2.8, pointStyle: 'rect', pointRadius: 3.5, pointBorderWidth: 0, tension: 0},
    {data: ellPoints(D.ex, D.eb), showLine: true, borderColor: BLUE, backgroundColor: BLUE, borderWidth: 1, pointStyle: 'rect', pointRadius: c => ellRadius(c) * 1.15, pointBorderWidth: 0, tension: 0.4},
    {data: P(D.cb), showLine: false, backgroundColor: BLUE, pointStyle: 'rect', pointRadius: 3.2, pointBorderWidth: 0},
    {data: bellPoints(D.bru, D.brl, D.brt), showLine: true, borderColor: RED, backgroundColor: RED, borderWidth: 2.2, pointStyle: 'circle', pointRadius: 2.5, pointBorderWidth: 0, tension: 0},
    {data: ellPoints(D.ex, D.er), showLine: true, borderColor: RED, backgroundColor: RED, borderWidth: 1, pointStyle: 'circle', pointRadius: c => ellRadius(c) * 0.85, pointBorderWidth: 0, tension: 0.4},
    {data: P(D.cr), showLine: false, backgroundColor: RED, pointStyle: 'circle', pointRadius: 2.2, pointBorderWidth: 0}
  ];
  makeChart(pn.pw, pwSets, PW_X_TICKS, PW_Y_TICKS, 'Focus /nm', fmtMinus, v => v.toFixed(2), 0);

  const dofSets = [
    {data: P(D.db), showLine: true, borderColor: BLUE, backgroundColor: BLUE, borderWidth: 1.2, pointStyle: 'rect', pointRadius: 4, pointBorderWidth: 0, tension: 0},
    {data: P(D.dr), showLine: true, borderColor: RED, backgroundColor: RED, borderWidth: 1.2, pointStyle: 'circle', pointRadius: 2.9, pointBorderWidth: 0, tension: 0}
  ];
  makeChart(pn.dof, dofSets, DOF_X_TICKS, pn.k === 'b' ? DOF_Y_TICKS_B : DOF_Y_TICKS, 'DOF /nm', v => String(v), v => String(v), 0);

  const lb = document.createElement('div');
  lb.className = 'lbl';
  lb.textContent = '(' + pn.k + ')';
  lb.style.left = pn.lab[0] + 'px'; lb.style.top = pn.lab[1] + 'px';
  document.body.appendChild(lb);
});
</script>
</body></html>
